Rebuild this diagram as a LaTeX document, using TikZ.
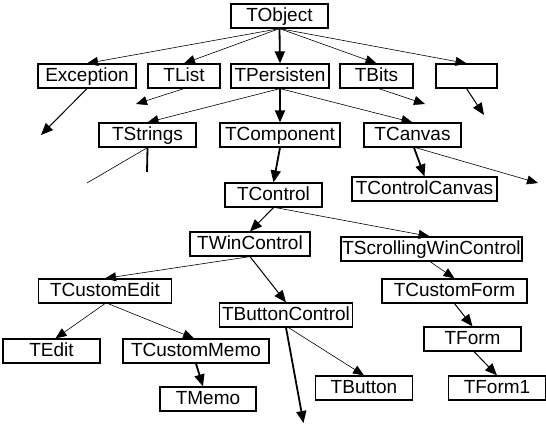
\documentclass[tikz,border=0pt]{standalone}
\usepackage{fontspec}
\setmainfont{Liberation Sans}
\usetikzlibrary{arrows.meta}

\tikzset{
    cls/.style={draw, line width=1.2pt, minimum height=24pt, inner sep=0pt,
        text height=13.6pt, text depth=2.6pt, font=\fontsize{19}{22}\selectfont},
    thin link/.style={-{Triangle[length=11pt,width=9pt]}, line width=0.6pt},
    mid link/.style={-{Triangle[length=12pt,width=10pt]}, line width=1pt},
    thick link/.style={-{Triangle[length=12pt,width=10pt]}, line width=1.8pt},
}

\begin{document}
\begin{tikzpicture}[x=1pt, y=-1pt]
                \useasboundingbox (0,0) rectangle (546,430);

                \node [cls, minimum width=97pt] (tobject) at (279.5,16) {TObject};

                \node [cls, minimum width=98pt] (exception) at (87,76) {Exception};
                \node [cls, minimum width=72pt] (tlist) at (184,76) {TList};
                \node [cls, minimum width=98pt] (tpersisten) at (280,76) {TPersisten};
                \node [cls, minimum width=73pt] (tbits) at (376.5,76) {TBits};
                \node [cls, minimum width=61pt] (blank) at (466.5,76) {};

                \node [cls, minimum width=97pt] (tstrings) at (147.5,135) {TStrings};
                \node [cls, minimum width=120pt] (tcomponent) at (280,135) {TComponent};
                \node [cls, minimum width=97pt] (tcanvas) at (412.5,135) {TCanvas};

                \node [cls, minimum width=145pt] (tcontrolcanvas) at (424.5,189) {TControlCanvas};
                \node [cls, minimum width=97pt] (tcontrol) at (273.5,195) {TControl};

                \node [cls, minimum width=120pt] (twincontrol) at (250,244) {TWinControl};
                \node [cls, minimum width=181pt] (tscrolling) at (431.5,249) {TScrollingWinControl};

                \node [cls, minimum width=133pt] (tcustomedit) at (105,291) {TCustomEdit};
                \node [cls, minimum width=145pt] (tcustomform) at (454.5,291) {TCustomForm};
                \node [cls, minimum width=133pt] (tbuttoncontrol) at (286,315) {TButtonControl};

                \node [cls, minimum width=97pt] (tedit) at (51.5,351) {TEdit};
                \node [cls, minimum width=146pt] (tcustommemo) at (196,351) {TCustomMemo};
                \node [cls, minimum width=97pt] (tform) at (472.5,339) {TForm};

                \node [cls, minimum width=96pt] (tmemo) at (208,399) {TMemo};
                \node [cls, minimum width=97pt] (tbutton) at (364,388) {TButton};
                \node [cls, minimum width=97pt] (tform1) at (497,388) {TForm1};

                \coordinate (exception end) at (41,135);
                \coordinate (tlist end) at (136,104);
                \coordinate (tbits end) at (425,104);
                \coordinate (blank end) at (484,115);
                \coordinate (tstrings thin) at (87,183);
                \coordinate (tstrings thick) at (147,172);
                \coordinate (tcanvas end) at (538,183);
                \coordinate (tbuttoncontrol end) at (303.5,423);

                \draw [thin link] (tobject.south) -- (exception.north);
                \draw [thin link] (tobject.south) -- (tlist.north);
                \draw [thick link] (tobject.south) -- (tpersisten.north);
                \draw [thin link] (tobject.south) -- (tbits.north);
                \draw [thin link] (tobject.south) -- (blank.north);

                \draw [mid link] (exception.south) -- (exception end);
                \draw [thin link] (tlist.south) -- (tlist end);
                \draw [thin link] ([xshift=2pt]tbits.south) -- (tbits end);
                \draw [mid link] (blank.south) -- (blank end);

                \draw [thin link] (tpersisten.south) -- (tstrings.north);
                \draw [thick link] (tpersisten.south) -- (tcomponent.north);
                \draw [thin link] (tpersisten.south) -- (tcanvas.north);

                \draw [line width=0.6pt] (tstrings.south) -- (tstrings thin);
                \draw [line width=1.8pt] (tstrings.south) -- (tstrings thick);

                \draw [thick link] (tcomponent.south) -- (tcontrol.north);
                \draw [thick link] ([xshift=1.5pt]tcanvas.south) -- (tcontrolcanvas.north);
                \draw [thin link] ([xshift=3pt]tcanvas.south) -- (tcanvas end);

                \draw [mid link] (tcontrol.south) -- (twincontrol.north);
                \draw [thin link] ([xshift=2pt]tcontrol.south) -- ([xshift=-2pt]tscrolling.north);

                \draw [thin link] (twincontrol.south) -- (tcustomedit.north);
                \draw [mid link] (twincontrol.south) -- (tbuttoncontrol.north);
                \draw [thin link] ([xshift=-1.5pt]tscrolling.south) -- (tcustomform.north);

                \draw [thin link] (tcustomedit.south) -- ([xshift=4pt]tedit.north);
                \draw [thin link] ([xshift=3pt]tcustomedit.south) -- ([xshift=-2pt]tcustommemo.north);
                \draw [thick link] (tcustommemo.south) -- ([xshift=-5pt]tmemo.north);

                \draw [thick link] (tbuttoncontrol.south) -- (tbuttoncontrol end);
                \draw [thin link] ([xshift=2.5pt]tbuttoncontrol.south) -- (tbutton.north);

                \draw [mid link] (tcustomform.south) -- (tform.north);
                \draw [mid link] ([xshift=1.5pt]tform.south) -- (tform1.north);
            \end{tikzpicture}
\end{document}
